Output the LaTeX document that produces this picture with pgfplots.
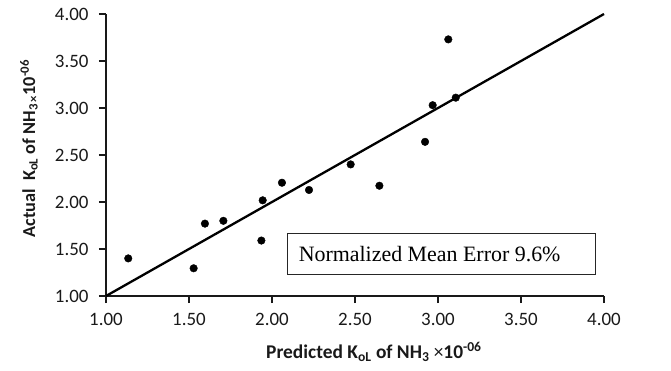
\documentclass[border=0pt]{standalone}
\usepackage{pgfplots}
\pgfplotsset{compat=1.18}
\usepackage{fontspec}
\setmainfont{Carlito}
\newfontfamily\serifbox{Liberation Serif}
\begin{document}
\begin{tikzpicture}
\useasboundingbox (-106bp,-75bp) rectangle (565bp,296bp);
\begin{axis}[
  at={(0,0)}, anchor=south west,
  scale only axis, width=498bp, height=282bp,
  xmin=1, xmax=4, ymin=1, ymax=4,
  axis x line*=bottom, axis y line*=left,
  axis line style={line width=1.6bp, color=black!90, -},
  xtick={1,1.5,...,4}, ytick={1,1.5,...,4},
  tick align=outside, major tick length=7bp,
  tick style={line width=1.2bp, color=black!90},
  /pgf/number format/assume math mode=true,
  xticklabel style={/pgf/number format/.cd, fixed, fixed zerofill, precision=2, /tikz/.cd, yshift=-7bp},
  yticklabel style={/pgf/number format/.cd, fixed, fixed zerofill, precision=2, /tikz/.cd, xshift=-7bp},
  ticklabel style={font=\fontsize{19}{21}\selectfont, color=black!90},
  xlabel={\textbf{Predicted K\textsubscript{oL} of NH\textsubscript{3}} ×\textbf{10\textsuperscript{-06}}},
  ylabel={\textbf{Actual\ \ K\textsubscript{oL} of NH\textsubscript{3\,×}10\textsuperscript{-06}}},
  label style={color=black!90},
  xlabel style={font=\fontsize{19.5}{22}\selectfont, at={(axis description cs:0.538,-0.1986)}, anchor=center},
  ylabel style={font=\fontsize{18.3}{22}\selectfont, at={(axis description cs:-0.1546,0.523)}, anchor=center},
  clip=false,
]
\addplot[black, line width=2.3bp, no marks] coordinates {(1,1) (4,4)};
\addplot[only marks, mark=*, mark size=3.8bp, black] coordinates {
(1.134,1.40) (1.528,1.295) (1.596,1.77) (1.707,1.80) (1.944,2.018)
(1.936,1.59) (2.06,2.205) (2.223,2.128) (2.474,2.40) (2.647,2.173)
(2.922,2.64) (2.968,3.03) (3.062,3.73) (3.107,3.11)
};
\draw[line width=1bp, black!85, fill=white] (axis cs:2.096,1.234) rectangle (axis cs:3.946,1.66);
\node[anchor=west, inner sep=0pt, font=\serifbox\fontsize{22}{26}\selectfont] at (axis cs:2.16,1.447) {Normalized Mean Error 9.6\%};
\end{axis}
\end{tikzpicture}
\end{document}
